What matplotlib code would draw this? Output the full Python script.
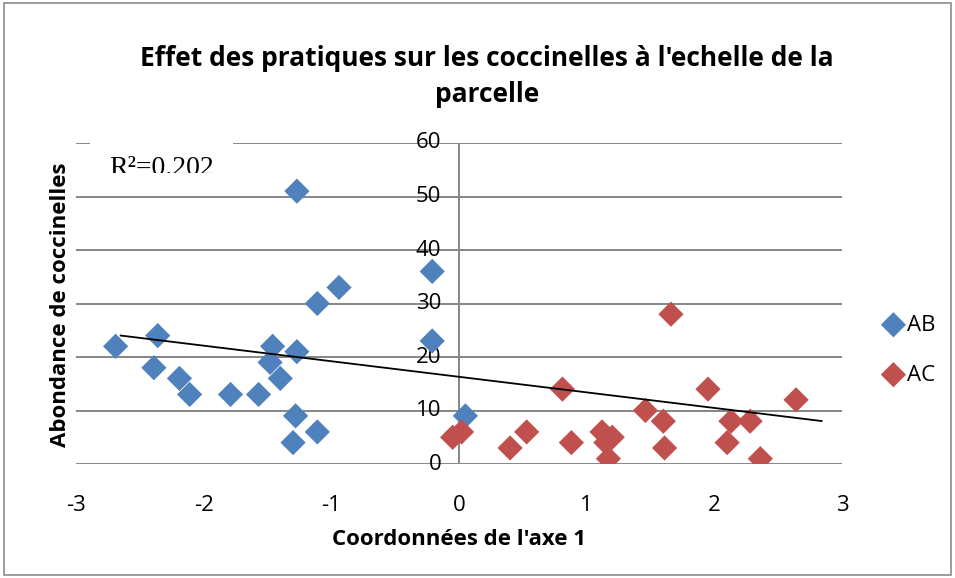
import matplotlib.pyplot as plt
import numpy as np
from matplotlib.patches import Rectangle

# AB points (axis 1 coordinate, abundance)
ab_x = [-2.69, -2.36, -2.39, -2.19, -2.11, -1.79, -1.57, -1.48, -1.46, -1.40,
        -1.27, -1.27, -1.28, -1.30, -1.11, -1.11, -0.94, -0.21, -0.21, 0.05]
ab_y = [22, 24, 18, 16, 13, 13, 13, 19, 22, 16,
        21, 51, 9, 4, 6, 30, 33, 36, 23, 9]

# AC points
ac_x = [-0.05, 0.02, 0.40, 0.53, 0.81, 0.88, 1.12, 1.15, 1.20, 1.17,
        1.46, 1.60, 1.61, 1.66, 1.95, 2.10, 2.13, 2.28, 2.36, 2.64]
ac_y = [5, 6, 3, 6, 14, 4, 6, 4, 5, 1,
        10, 8, 3, 28, 14, 4, 8, 8, 1, 12]

# trend line as drawn in the original chart
trend_slope = -2.91
trend_intercept = 16.3
trend_range = [-2.65, 2.84]

x_ticks = [-3, -2, -1, 0, 1, 2, 3]
y_ticks = [0, 10, 20, 30, 40, 50, 60]
r2_label = "R²=0.202"

BLUE = "#4F81BD"
RED = "#C0504D"
GRID = "#868686"

plt.rcParams["font.family"] = ["Open Sans", "DejaVu Sans"]
plt.rcParams["axes.unicode_minus"] = False

fig = plt.figure(figsize=(9.55, 5.78), dpi=100)
fig.patches.append(Rectangle((0.004, 0.005), 0.992, 0.99, transform=fig.transFigure,
                             fill=False, edgecolor="#8c8c8c", linewidth=1.2))

ax = fig.add_axes([0.0796, 0.1972, 0.8021, 0.5554])
ax.set_xlim(-3, 3)
ax.set_ylim(0, 60)

for v in y_ticks:
    ax.axhline(v, color=GRID, linewidth=1.4, zorder=1)
ax.axvline(0, color=GRID, linewidth=1.4, zorder=1)

for side in ["left", "right", "top", "bottom"]:
    ax.spines[side].set_visible(False)

ax.set_xticks(x_ticks)
ax.set_yticks(y_ticks)
ax.tick_params(length=0, labelsize=16)
ax.tick_params(axis="x", pad=22)
ax.set_yticklabels([])
for v in y_ticks:
    ax.text(-0.14, v, str(v), ha="right", va="center", fontsize=16, zorder=2)

ax.scatter(ab_x, ab_y, marker="D", s=165, color=BLUE, edgecolors="none",
           label="AB", zorder=4)
ax.scatter(ac_x, ac_y, marker="D", s=165, color=RED, edgecolors="none",
           label="AC", zorder=4)

line_x = np.array(trend_range)
ax.plot(line_x, trend_slope * line_x + trend_intercept, color="black",
        linewidth=1.3, zorder=5)

# white label box hiding part of the top gridline, text clipped at its bottom
fig.patches.append(Rectangle((90 / 955, 1 - 172 / 578), 143 / 955, 40 / 578,
                             transform=fig.transFigure, facecolor="white",
                             edgecolor="none", zorder=3))
txt = fig.text(109 / 955, 1 - 169 / 578, r2_label, fontsize=20,
               family="Liberation Serif", va="center", ha="left", zorder=6)
clip = Rectangle((0, 1 - 173 / 578), 1, 173 / 578, transform=fig.transFigure)
txt.set_clip_path(clip)

ax.set_xlabel("Coordonnées de l'axe 1", fontsize=16, fontweight="bold", labelpad=10)
fig.text(0.063, 0.472, "Abondance de coccinelles", rotation=90, fontsize=16,
         fontweight="bold", ha="center", va="center")
fig.text(0.51, 0.868, "Effet des pratiques sur les coccinelles à l'echelle de la\nparcelle",
         fontsize=19, fontweight="bold", ha="center", va="center", linespacing=1.45)

ax.legend(loc="center left", bbox_to_anchor=(1.025, 0.355), frameon=False, fontsize=16,
          handletextpad=0.05, labelspacing=1.3, handlelength=1.1)

fig.savefig("out.png", dpi=100)
